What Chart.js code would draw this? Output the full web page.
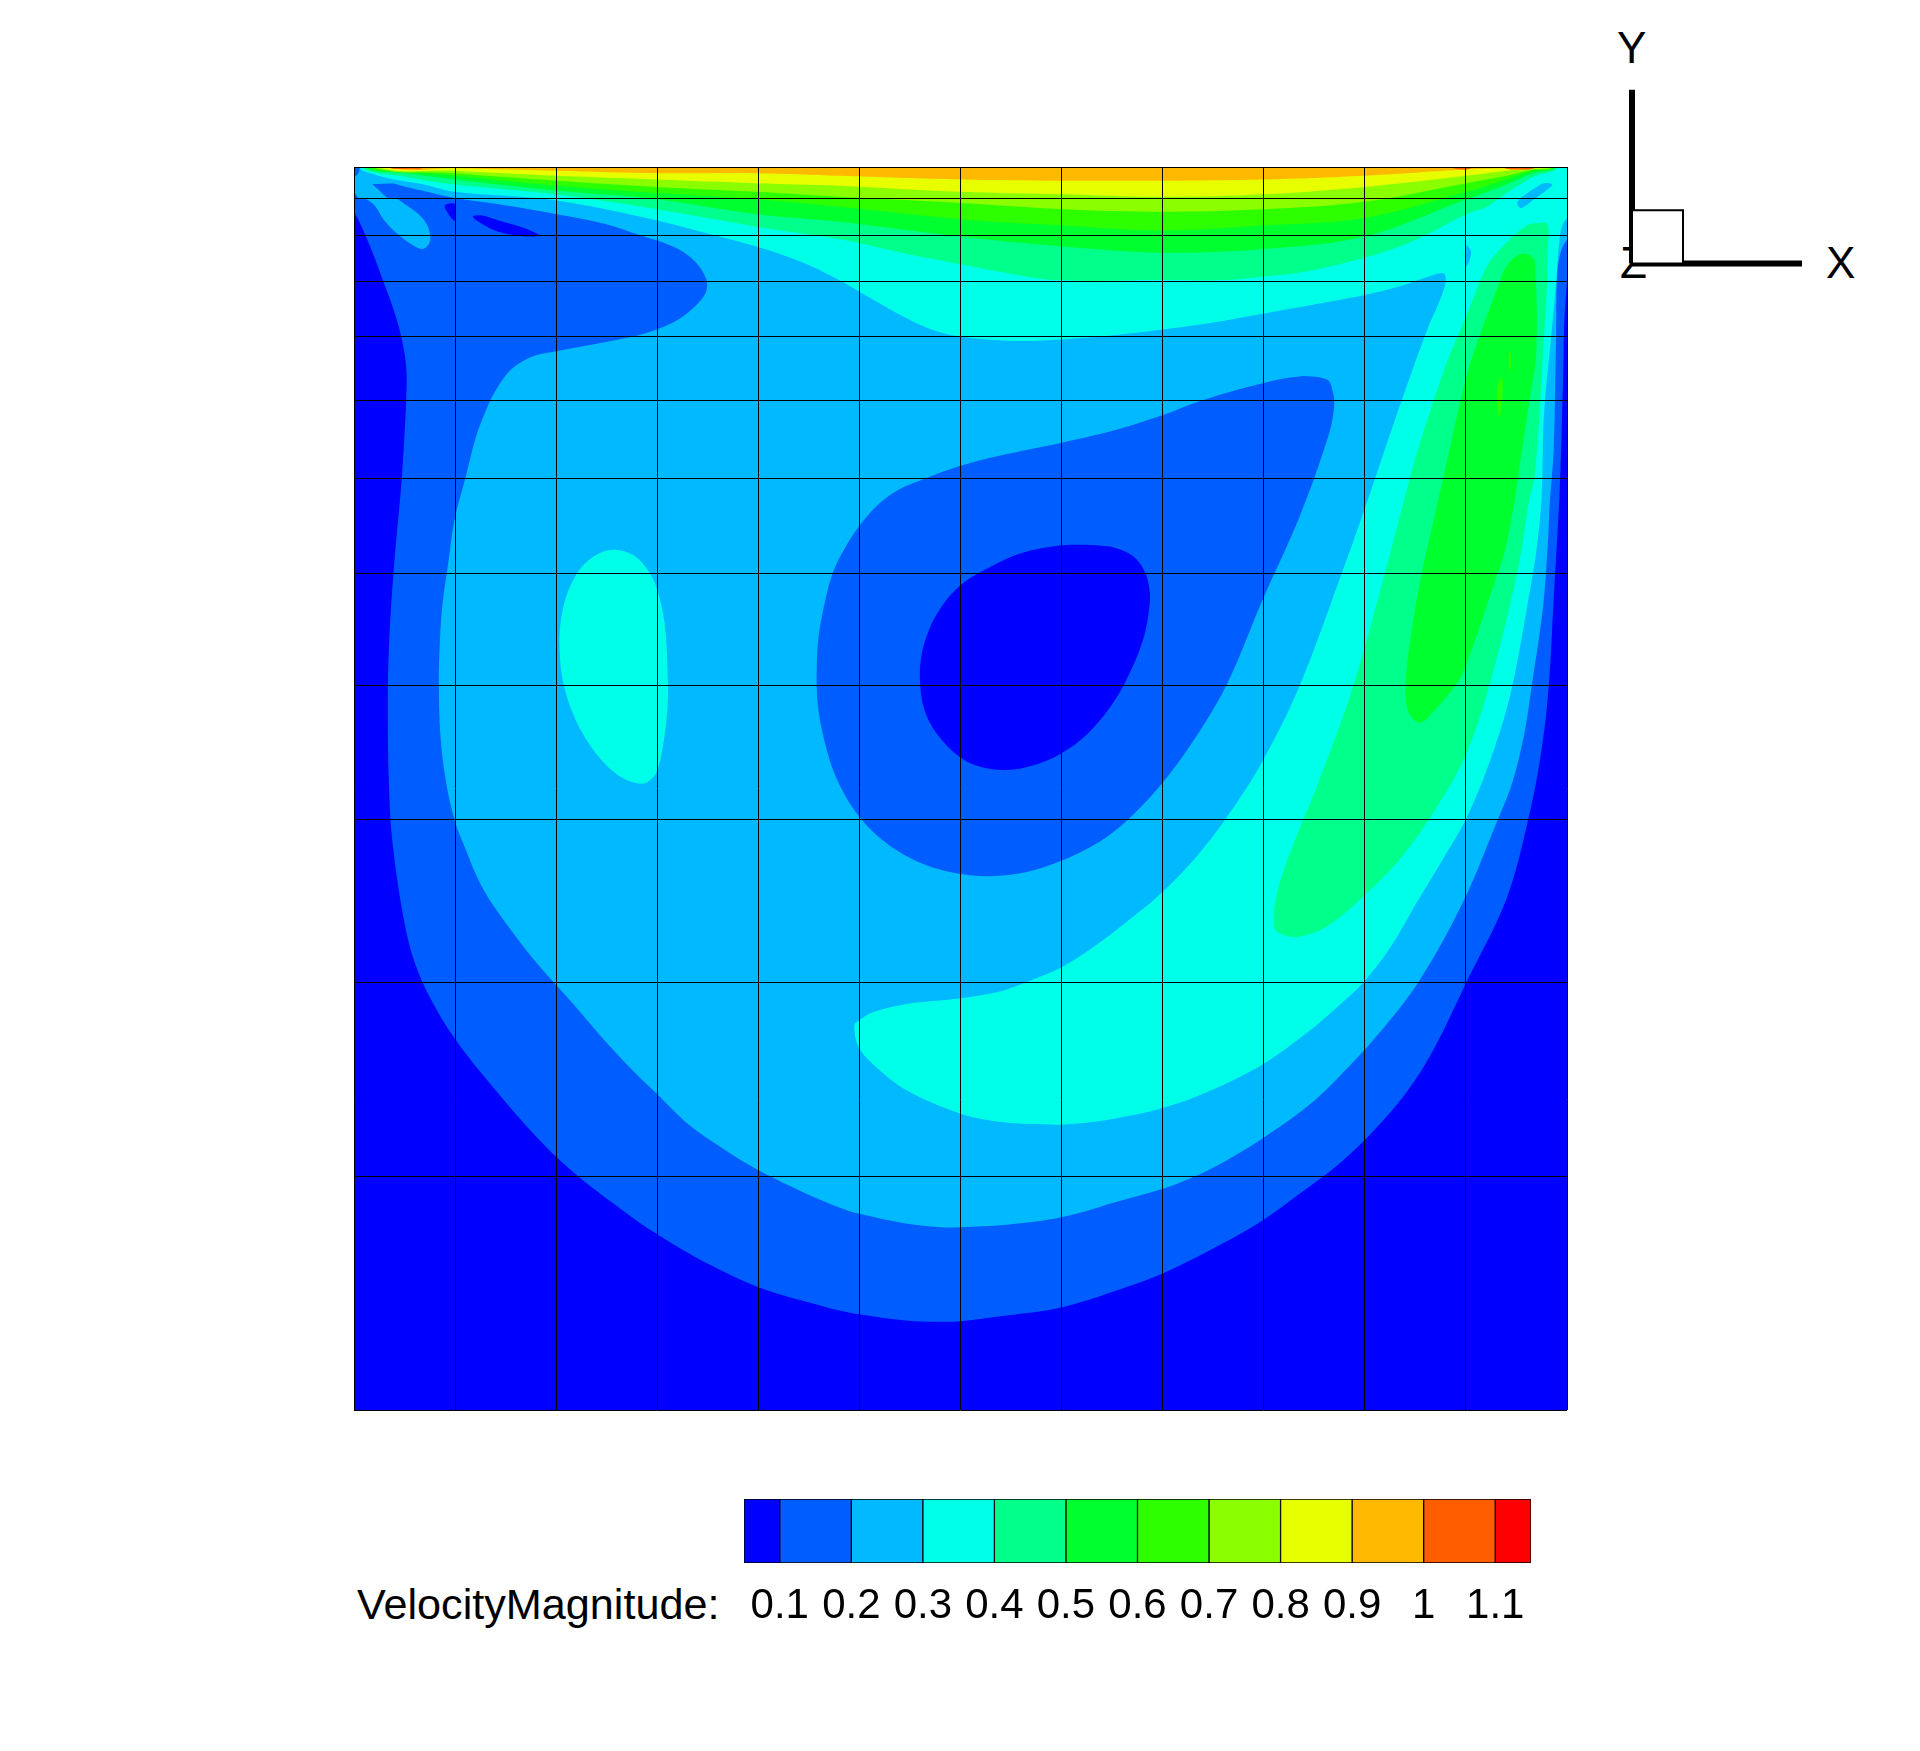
<!DOCTYPE html>
<html>
<head>
<meta charset="utf-8">
<script src="https://cdn.jsdelivr.net/npm/chart.js@4"></script>
<style>
  body { margin: 0; background: #fff; width: 1920px; height: 1751px; position: relative; overflow: hidden; }
  canvas { position: absolute; }
  .label { position: absolute; font: 44px/50px "Liberation Sans", sans-serif; color: #000; white-space: nowrap; }
</style>
</head>
<body>
<div class="label" style="left:1620px;top:238px">Z</div>
<div class="label" style="left:1617px;top:23px">Y</div>
<div class="label" style="left:1826px;top:238px">X</div>
<div class="label" style="left:357px;top:1579px;font-size:43.2px">VelocityMagnitude:</div>
<canvas id="field" width="1920" height="1751" style="left:0;top:0"></canvas>
<canvas id="bar" width="880" height="140" style="left:700px;top:1490px"></canvas>
<canvas id="triad" width="238" height="241" style="left:1598px;top:57px"></canvas>
<script>
// velocity magnitude band colours, lowest to highest
const c0 = "#0000ff", c1 = "#005dff", c2 = "#00b9ff", c3 = "#00ffe8", c4 = "#00ff8b", c5 = "#00ff2e",
      c6 = "#2eff00", c7 = "#8bff00", c8 = "#e8ff00", c9 = "#ffb900", c10 = "#ff5d00", c11 = "#ff0000";

// colour bar
const legendColors = [c0, c1, c2, c3, c4, c5, c6, c7, c8, c9, c10, c11];
const legendEdges = [0.05, 0.1, 0.2, 0.3, 0.4, 0.5, 0.6, 0.7, 0.8, 0.9, 1.0, 1.1, 1.15];
const legendTicks = [0.1, 0.2, 0.3, 0.4, 0.5, 0.6, 0.7, 0.8, 0.9, 1, 1.1];

// mesh lines (normalised cavity coordinates)
const meshX = [0, 0.0833, 0.1667, 0.25, 0.3333, 0.4167, 0.5, 0.5833, 0.6667, 0.75, 0.8333, 0.9167, 1];
const meshY = [0, 0.188, 0.344, 0.475, 0.583, 0.673, 0.749, 0.812, 0.864, 0.908, 0.9445, 0.975, 1];

// contours, [x, y] in cavity coordinates
const above01 = [[-0.02,1.02],[1.02,1.02],[1.003,0.932],[0.998,0.88],[0.997,0.839],[0.994,0.741],[0.989,0.652],[0.985,0.583],[0.979,0.531],[0.968,0.475],[0.95,0.411],[0.917,0.344],[0.89,0.29],[0.868,0.256],[0.84,0.224],[0.812,0.198],[0.7795,0.174],[0.749,0.1525],[0.716,0.134],[0.667,0.11],[0.634,0.098],[0.583,0.0825],[0.538,0.076],[0.5,0.0715],[0.483,0.071],[0.455,0.072],[0.416,0.077],[0.4,0.08],[0.373,0.087],[0.333,0.099],[0.291,0.118],[0.249,0.142],[0.221,0.161],[0.186,0.187],[0.153,0.217],[0.1117,0.263],[0.0829,0.299],[0.0636,0.33],[0.05,0.36],[0.041,0.395],[0.0315,0.4585],[0.0287,0.5068],[0.0279,0.5659],[0.0287,0.6115],[0.0326,0.6743],[0.0394,0.75],[0.043,0.8128],[0.043,0.8396],[0.0389,0.8637],[0.0325,0.8856],[0.0245,0.9071],[0.0142,0.9339],[0.0004,0.9634],[-0.02,0.995],[-0.02,1.02]];
const below01a = [[0.075,0.969],[0.083,0.97],[0.083,0.957],[0.078,0.962],[0.075,0.969]];
const below01b = [[0.098,0.96],[0.106,0.961],[0.119,0.957],[0.137,0.952],[0.153,0.945],[0.143,0.944],[0.134,0.945],[0.119,0.948],[0.106,0.954],[0.098,0.96]];
const above02 = [[-0.02,1.02],[1.02,1.02],[1.005,0.95],[0.996,0.935],[0.992,0.915],[0.991,0.864],[0.989,0.772],[0.986,0.733],[0.984,0.693],[0.98,0.644],[0.971,0.583],[0.965,0.545],[0.955,0.505],[0.943,0.475],[0.914,0.408],[0.878,0.345],[0.845,0.303],[0.812,0.268],[0.785,0.2435],[0.749,0.2185],[0.716,0.199],[0.691,0.187],[0.667,0.178],[0.634,0.169],[0.583,0.155],[0.538,0.149],[0.5,0.147],[0.483,0.147],[0.455,0.15],[0.416,0.158],[0.4,0.163],[0.373,0.174],[0.333,0.193],[0.304,0.2103],[0.2766,0.229],[0.249,0.255],[0.227,0.276],[0.205,0.299],[0.1777,0.33],[0.152,0.358],[0.128,0.388],[0.106,0.42],[0.0889,0.4585],[0.0829,0.4746],[0.076,0.5044],[0.0713,0.5417],[0.0699,0.5841],[0.0705,0.6115],[0.0727,0.6464],[0.0773,0.6786],[0.0829,0.7162],[0.0919,0.75],[0.1007,0.7833],[0.109,0.8048],[0.1172,0.8209],[0.128,0.8356],[0.139,0.8437],[0.15,0.8485],[0.1667,0.8517],[0.2172,0.861],[0.236,0.865],[0.263,0.875],[0.279,0.886],[0.29,0.899],[0.29,0.911],[0.279,0.926],[0.263,0.936],[0.236,0.945],[0.208,0.954],[0.167,0.962],[0.126,0.969],[0.083,0.975],[0.056,0.981],[0.039,0.985],[0.026,0.989],[0.016,0.99],[0.015,0.987],[0.02,0.982],[0.028,0.975],[0.034,0.975],[0.042,0.97],[0.052,0.963],[0.06,0.954],[0.063,0.943],[0.061,0.937],[0.056,0.934],[0.047,0.938],[0.036,0.946],[0.025,0.957],[0.017,0.969],[0.01,0.974],[0.004,0.975],[0,0.979],[-0.02,0.985],[-0.02,1.02]];
const core01 = [[0.7795,0.8315],[0.749,0.826],[0.6984,0.812],[0.6657,0.8],[0.6283,0.7886],[0.5826,0.778],[0.532,0.7677],[0.4993,0.7594],[0.4704,0.7492],[0.45,0.741],[0.4333,0.7295],[0.416,0.7105],[0.4028,0.69],[0.3947,0.6735],[0.388,0.649],[0.383,0.622],[0.3815,0.5974],[0.3823,0.5675],[0.388,0.5376],[0.398,0.5077],[0.416,0.478],[0.439,0.456],[0.4687,0.4395],[0.4993,0.4314],[0.524,0.4295],[0.5545,0.4328],[0.5826,0.4416],[0.6146,0.4572],[0.6377,0.4746],[0.6657,0.5036],[0.6913,0.5374],[0.7193,0.5833],[0.749,0.6517],[0.7795,0.7186],[0.804,0.786],[0.808,0.808],[0.807,0.819],[0.802,0.829],[0.7795,0.8315]];
const core00 = [[0.5995,0.696],[0.5816,0.6954],[0.5487,0.6888],[0.517,0.6743],[0.4993,0.663],[0.4853,0.6477],[0.4745,0.6287],[0.4676,0.6058],[0.4668,0.5833],[0.4703,0.5632],[0.48,0.5447],[0.4993,0.5253],[0.517,0.5173],[0.5377,0.5149],[0.5596,0.5185],[0.5826,0.528],[0.6037,0.5431],[0.6229,0.5648],[0.6377,0.5893],[0.6505,0.6196],[0.6558,0.6465],[0.6558,0.66],[0.6517,0.675],[0.6421,0.687],[0.6283,0.6933],[0.6146,0.6954],[0.5995,0.696]];
const above03 = [[0.004,1.02],[1.02,1.02],[1.005,0.965],[0.997,0.955],[0.994,0.943],[0.991,0.907],[0.987,0.864],[0.981,0.8],[0.979,0.733],[0.975,0.693],[0.972,0.674],[0.955,0.583],[0.94,0.532],[0.918,0.478],[0.897,0.442],[0.876,0.408],[0.855,0.373],[0.833,0.345],[0.812,0.3255],[0.785,0.303],[0.749,0.278],[0.703,0.2557],[0.6665,0.243],[0.6286,0.2347],[0.592,0.23],[0.5596,0.23],[0.53,0.232],[0.499,0.2387],[0.456,0.257],[0.4316,0.275],[0.416,0.292],[0.4126,0.3096],[0.4167,0.3136],[0.4277,0.32],[0.455,0.3265],[0.499,0.331],[0.5297,0.336],[0.551,0.343],[0.583,0.356],[0.609,0.372],[0.636,0.392],[0.6657,0.416],[0.697,0.448],[0.7218,0.48],[0.749,0.522],[0.7795,0.5825],[0.815,0.675],[0.836,0.733],[0.864,0.813],[0.884,0.867],[0.899,0.903],[0.899,0.914],[0.889,0.913],[0.862,0.904],[0.833,0.897],[0.812,0.893],[0.749,0.882],[0.703,0.874],[0.665,0.869],[0.62,0.864],[0.579,0.861],[0.551,0.86],[0.524,0.861],[0.491,0.865],[0.469,0.872],[0.441,0.886],[0.416,0.9],[0.4,0.909],[0.373,0.922],[0.332,0.936],[0.29,0.947],[0.25,0.957],[0.167,0.973],[0.083,0.98],[0.058,0.986],[0.033,0.99],[0.017,0.994],[0.004,1],[0.004,1.02]];
const island03 = [[0.2148,0.692],[0.2024,0.6893],[0.1914,0.6818],[0.1832,0.6719],[0.175,0.6544],[0.1703,0.6332],[0.1694,0.6142],[0.172,0.5874],[0.1803,0.5607],[0.1926,0.5377],[0.2079,0.5189],[0.2216,0.5084],[0.2326,0.5044],[0.2409,0.5047],[0.2491,0.5124],[0.2546,0.5337],[0.2585,0.5659],[0.2585,0.593],[0.256,0.6332],[0.2491,0.6625],[0.2409,0.6775],[0.2298,0.688],[0.2148,0.692]];
const pocket02a = [[0.959,0.971],[0.962,0.967],[0.973,0.974],[0.984,0.982],[0.988,0.986],[0.981,0.987],[0.972,0.982],[0.962,0.975],[0.959,0.971]];
const pocket02b = [[0.917,0.937],[0.921,0.931],[0.917,0.92],[0.917,0.937]];
const lid04 = [[0.006,1.02],[0.006,1],[0.043,0.992],[0.083,0.986],[0.167,0.978],[0.25,0.966],[0.332,0.952],[0.4,0.942],[0.456,0.93],[0.499,0.922],[0.537,0.915],[0.579,0.909],[0.666,0.909],[0.716,0.909],[0.75,0.912],[0.785,0.916],[0.833,0.927],[0.862,0.936],[0.889,0.948],[0.917,0.962],[0.934,0.968],[0.95,0.979],[0.972,0.992],[0.993,1],[0.993,1.02],[0.006,1.02]];
const wall04 = [[0.977,0.955],[0.984,0.954],[0.984,0.934],[0.983,0.893],[0.981,0.864],[0.978,0.812],[0.973,0.749],[0.969,0.733],[0.959,0.674],[0.936,0.583],[0.916,0.526],[0.888,0.478],[0.862,0.443],[0.833,0.414],[0.802,0.389],[0.78,0.381],[0.767,0.382],[0.759,0.388],[0.761,0.416],[0.774,0.454],[0.794,0.502],[0.824,0.583],[0.85,0.674],[0.866,0.733],[0.873,0.759],[0.884,0.794],[0.901,0.843],[0.917,0.88],[0.934,0.92],[0.95,0.939],[0.967,0.953],[0.977,0.955]];
const lid05 = [[0.009,1.02],[0.009,1],[0.043,0.995],[0.083,0.99],[0.167,0.981],[0.25,0.974],[0.332,0.962],[0.4,0.956],[0.5,0.944],[0.584,0.936],[0.666,0.931],[0.75,0.934],[0.833,0.944],[0.917,0.974],[0.95,0.986],[0.972,0.995],[0.991,1],[0.991,1.02],[0.009,1.02]];
const wall05 = [[0.962,0.93],[0.972,0.927],[0.974,0.912],[0.975,0.88],[0.974,0.843],[0.969,0.812],[0.961,0.76],[0.957,0.733],[0.949,0.692],[0.943,0.674],[0.917,0.6],[0.908,0.583],[0.889,0.561],[0.879,0.553],[0.87,0.56],[0.867,0.575],[0.868,0.598],[0.873,0.634],[0.88,0.672],[0.894,0.733],[0.898,0.75],[0.917,0.831],[0.929,0.867],[0.942,0.901],[0.95,0.92],[0.962,0.93]];
const lid06 = [[0.012,1.02],[0.012,1],[0.043,0.997],[0.083,0.993],[0.167,0.985],[0.25,0.979],[0.332,0.974],[0.4,0.968],[0.5,0.958],[0.584,0.953],[0.666,0.949],[0.75,0.953],[0.833,0.959],[0.917,0.98],[0.95,0.99],[0.972,0.997],[0.989,1],[0.989,1.02],[0.012,1.02]];
const sliver06a = [[0.945,0.831],[0.947,0.827],[0.946,0.808],[0.944,0.799],[0.942,0.816],[0.945,0.831]];
const sliver06b = [[0.953,0.853],[0.954,0.845],[0.953,0.835],[0.952,0.845],[0.953,0.853]];
const lid07 = [[0.015,1.02],[0.015,1],[0.083,0.995],[0.167,0.989],[0.25,0.984],[0.332,0.98],[0.4,0.976],[0.5,0.971],[0.584,0.966],[0.666,0.964],[0.75,0.966],[0.833,0.972],[0.917,0.987],[0.95,0.993],[0.972,0.998],[0.987,1],[0.987,1.02],[0.015,1.02]];
const lid08 = [[0.02,1.02],[0.02,1],[0.083,0.997],[0.167,0.993],[0.25,0.99],[0.332,0.987],[0.4,0.985],[0.5,0.98],[0.584,0.978],[0.666,0.976],[0.75,0.978],[0.833,0.984],[0.917,0.993],[0.95,0.997],[0.972,0.999],[0.98,1],[0.98,1.02],[0.02,1.02]];
const lid09 = [[0.03,1.02],[0.03,1],[0.083,0.999],[0.167,0.997],[0.25,0.995],[0.332,0.995],[0.4,0.993],[0.5,0.99],[0.584,0.989],[0.666,0.989],[0.75,0.99],[0.833,0.993],[0.917,0.998],[0.95,0.999],[0.974,1],[0.974,1.02],[0.03,1.02]];
const spot10a = [[0.028,1.01],[0.028,1],[0.045,0.9985],[0.058,1],[0.058,1.01],[0.028,1.01]];
const spot10b = [[0.905,1.01],[0.905,1],[0.915,0.998],[0.922,1],[0.922,1.01],[0.905,1.01]];
const spot10c = [[0.947,1.01],[0.947,1],[0.96,0.998],[0.975,1],[0.975,1.01],[0.947,1.01]];
const cornerLeft = [[-0.01,1.01],[0.003,1.01],[0.003,0.994],[-0.01,0.994],[-0.01,1.01]];
const cornerRight = [[0.996,1.01],[1.01,1.01],[1.01,0.993],[0.996,0.993],[0.996,1.01]];

// triad, axis lengths in units of the X arrow
const triadX = [[0, 0], [1, 0]];
const triadY = [[0, 0], [0, 1.01]];
const triadBox = [[0, 0], [0.3, 0], [0.3, 0.31], [0, 0.31], [0, 0]];

// painted lowest first, each band on top of the one below
const bands = [
  [above01, c1], [below01a, c0], [below01b, c0],
  [above02, c2], [cornerLeft, c1], [cornerRight, c1], [core01, c1], [core00, c0],
  [above03, c3], [island03, c3], [pocket02a, c2], [pocket02b, c2],
  [lid04, c4], [wall04, c4], [lid05, c5], [wall05, c5],
  [lid06, c6], [sliver06a, c6], [sliver06b, c6], [lid07, c7], [lid08, c8], [lid09, c9],
  [spot10a, c10], [spot10b, c10], [spot10c, c10]
];

// overlap the ends so the spline has no corner where a closed contour starts
const wrap = (p) => [p[p.length - 2], ...p, p[1]];

new Chart(document.getElementById("field"), {
  type: "scatter",
  data: {
    datasets: bands.map(([pts, color], i) => ({
      data: wrap(pts),
      order: bands.length - i,
      showLine: true,
      fill: "shape",
      backgroundColor: color,
      borderWidth: 0,
      pointRadius: 0,
      tension: 0.35,
      capBezierPoints: false,
    })),
  },
  options: {
    responsive: false,
    devicePixelRatio: 1,
    animation: false,
    events: [],
    layout: { padding: { left: 354, right: 353, top: 167, bottom: 341 } },
    plugins: { legend: { display: false }, tooltip: { enabled: false } },
    scales: {
      x: {
        min: 0,
        max: 1,
        afterBuildTicks: (s) => { s.ticks = meshX.map((value) => ({ value })); },
        ticks: { display: false, autoSkip: false },
        border: { display: false },
        grid: { color: "#000", lineWidth: 1, drawTicks: false, z: 1 },
      },
      y: {
        min: 0,
        max: 1,
        afterBuildTicks: (s) => { s.ticks = meshY.map((value) => ({ value })); },
        ticks: { display: false, autoSkip: false },
        border: { display: false },
        grid: { color: "#000", lineWidth: 1, drawTicks: false, z: 1 },
      },
    },
  },
  plugins: [{
    id: "blueGround",
    beforeDatasetsDraw(chart) {
      const { ctx, chartArea: a } = chart;
      ctx.save();
      ctx.fillStyle = c0;
      ctx.fillRect(a.left, a.top, a.width, a.height);
      ctx.restore();
    },
  }],
});

new Chart(document.getElementById("bar"), {
  type: "bar",
  data: {
    labels: [""],
    datasets: legendColors.map((color, i) => ({
      data: [[legendEdges[i], legendEdges[i + 1]]],
      backgroundColor: color,
      borderColor: "#000",
      borderWidth: 1,
      borderSkipped: false,
      grouped: false,
      barPercentage: 1,
      categoryPercentage: 1,
    })),
  },
  options: {
    indexAxis: "y",
    responsive: false,
    devicePixelRatio: 1,
    animation: false,
    events: [],
    layout: { padding: { left: 44, right: 49, top: 9, bottom: 3 } },
    plugins: { legend: { display: false }, tooltip: { enabled: false } },
    scales: {
      x: {
        min: 0.05,
        max: 1.15,
        afterBuildTicks: (s) => { s.ticks = legendTicks.map((value) => ({ value })); },
        grid: { display: false },
        border: { display: false },
        ticks: {
          autoSkip: false,
          maxRotation: 0,
          padding: 10,
          color: "#000",
          font: { family: "Liberation Sans", size: 42 },
          callback: (v) => String(v),
        },
      },
      y: { display: false },
    },
  },
});

new Chart(document.getElementById("triad"), {
  type: "scatter",
  data: {
    datasets: [
      { data: triadBox, order: 1, showLine: true, fill: "shape", backgroundColor: "#fff", borderColor: "#000", borderWidth: 2, pointRadius: 0 },
      { data: triadX, order: 2, showLine: true, borderColor: "#000", borderWidth: 6, pointRadius: 0 },
      { data: triadY, order: 3, showLine: true, borderColor: "#000", borderWidth: 6, pointRadius: 0 },
    ],
  },
  options: {
    responsive: false,
    devicePixelRatio: 1,
    animation: false,
    events: [],
    plugins: { legend: { display: false }, tooltip: { enabled: false } },
    scales: {
      x: { display: false, min: -0.2, max: 1.2 },
      y: { display: false, min: -0.2, max: 1.2 },
    },
  },
});
</script>
</body>
</html>
